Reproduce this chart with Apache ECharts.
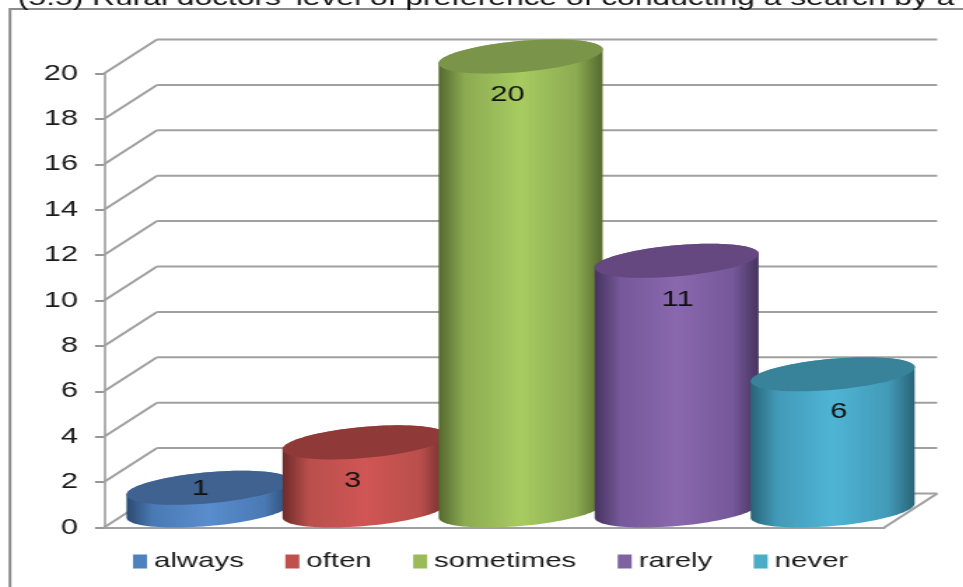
<!DOCTYPE html>
<html><head><meta charset="utf-8">
<script src="https://cdn.jsdelivr.net/npm/echarts@6/dist/echarts.min.js"></script>
<style>html,body{margin:0;padding:0;background:#fff;overflow:hidden}
#c{width:688px;height:587px;transform-origin:0 0;transform:scaleX(1.4)}</style>
</head><body><div id="c"></div>
<script>
const titleText = "(5.5) Rural doctors' level of preference of conducting a search by a";
const seriesNames = ['always','often','sometimes','rarely','never'];
const seriesValues = [1,3,20,11,6];
const yTicks = [0,2,4,6,8,10,12,14,16,18,20];
const bodyEdge = ['#2b4a70','#6e2b2a','#55692f','#46345f','#2a6478'];
const bodyMid = ['#4a7ab5','#b94f4c','#8cab52','#76599a','#429ab8'];
const bodyLight = ['#5a8dcd','#d05654','#a8cb61','#8a68ae','#4fb5d5'];
const topColor = ['#3f6290','#8f3a38','#7a9449','#64487f','#38829a'];
const swatch = ['#4f81bd','#c0504d','#9bbb59','#8064a2','#4bacc6'];

const S = 1.4;                 // horizontal stretch of the whole picture
const DX = 53 / S, DY = 34;    // depth of the 3D box
const A = 82.3, B = 15.5, TH = 5.05 * Math.PI / 180;
const FAMILY = '"Liberation Sans", Arial, sans-serif';
const labelNudge = [[-8,-16],[-12,22],[-13,21],[1,22],[6,21]]; // label placement, px

function ellipse(cx, cy, from, to, n) {
  const pts = [];
  for (let i = 0; i <= n; i++) {
    const t = from + (to - from) * i / n;
    const u = A * Math.cos(t), v = B * Math.sin(t);
    pts.push([cx + (u * Math.cos(TH) + v * Math.sin(TH)) / S, cy - u * Math.sin(TH) + v * Math.cos(TH)]);
  }
  return pts;
}
const TE = Math.atan(B / A * Math.tan(TH));

function cylinder(idx) {
  return function (params, api) {
    const p = api.coord([api.value(0), api.value(1)]);
    const p0 = api.coord([api.value(0), 0]);
    const cx = p[0] + DX / 2, topY = p[1] - DY / 2, baseY = p0[1] - DY / 2;
    const body = ellipse(cx, baseY, TE, TE + Math.PI, 48).concat(ellipse(cx, topY, TE + Math.PI, TE + 2 * Math.PI, 48));
    const n = labelNudge[idx];
    return { type: 'group', children: [
      { type: 'polygon', shape: { points: body }, style: { fill: new echarts.graphic.LinearGradient(0,0,1,0,[
        {offset:0,color:bodyEdge[idx]},{offset:.16,color:bodyMid[idx]},{offset:.5,color:bodyLight[idx]},{offset:.84,color:bodyMid[idx]},{offset:1,color:bodyEdge[idx]}]) } },
      { type: 'polygon', shape: { points: ellipse(cx, topY, 0, 2 * Math.PI, 96) }, style: { fill: topColor[idx] } },
      { type: 'text', style: { text: String(api.value(1)), x: cx + n[0] / S, y: p[1] + n[1], textAlign: 'center', textVerticalAlign: 'middle', fontSize: 22, fontFamily: FAMILY, fill: '#111' } }
    ] };
  };
}

function wall(params, api) {
  const v = api.value(1);
  const y = api.coord([0, v])[1];
  const x0 = params.coordSys.x, x1 = x0 + params.coordSys.width;
  const ls = { stroke: '#a0a0a0', lineWidth: 2, fill: 'none' };
  const ch = [
    { type: 'line', shape: { x1: x0, y1: y, x2: x0 + DX, y2: y - DY }, style: ls },
    { type: 'line', shape: { x1: x0 + DX, y1: y - DY, x2: x1 + DX, y2: y - DY }, style: ls }
  ];
  if (v === 0) ch.push({ type: 'line', shape: { x1: x1, y1: y, x2: x1 + DX, y2: y - DY }, style: ls });
  return { type: 'group', children: ch };
}

const series = [{ type: 'custom', name: 'wall', renderItem: wall, data: yTicks.map(v => [0, v]), silent: true, clip: false, encode: { x: 0, y: 1 }, z: 1 }];
seriesNames.forEach((name, i) => series.push({
  type: 'custom', name, renderItem: cylinder(i), data: [[i, seriesValues[i]]], clip: false,
  encode: { x: 0, y: 1 }, itemStyle: { color: swatch[i] }, z: 2 + i
}));

const chart = echarts.init(document.getElementById('c'), null, { width: 688, height: 587, renderer: 'canvas' });
chart.setOption({
  animation: false,
  backgroundColor: '#fff',
  title: { text: titleText, left: 12.8, top: -13, padding: 0, textStyle: { fontFamily: FAMILY, fontSize: 22.7, fontWeight: 'normal', color: '#111' } },
  grid: { left: 104 / S, right: (963 - 884) / S, top: 73.5, bottom: 59.5 },
  xAxis: { type: 'category', data: seriesNames, axisLine: { lineStyle: { color: '#a0a0a0', width: 2 } }, axisTick: { show: false }, axisLabel: { show: false }, splitLine: { show: false } },
  yAxis: { type: 'value', min: 0, max: 20, interval: 2, axisLine: { show: true, lineStyle: { color: '#969696', width: 1.5 } },
    axisTick: { show: true, length: 9 / S, lineStyle: { color: '#969696', width: 2 } },
    axisLabel: { margin: 26 / S, fontSize: 22, fontFamily: FAMILY, color: '#1a1a1a', padding: [6, 0, 0, 0] }, splitLine: { show: false } },
  legend: { data: seriesNames, left: 133 / S, top: 551, padding: 0, itemWidth: 10, itemHeight: 14, itemGap: 29.6, icon: 'rect',
    textStyle: { fontSize: 21, fontFamily: FAMILY, color: '#1a1a1a' } },
  graphic: [{ type: 'polyline', shape: { points: [[10 / S, 587], [10 / S, 9], [688, 9]] }, style: { stroke: '#8c8c8c', lineWidth: 2, fill: 'none' }, z: 0 }],
  series
});
</script></body></html>
